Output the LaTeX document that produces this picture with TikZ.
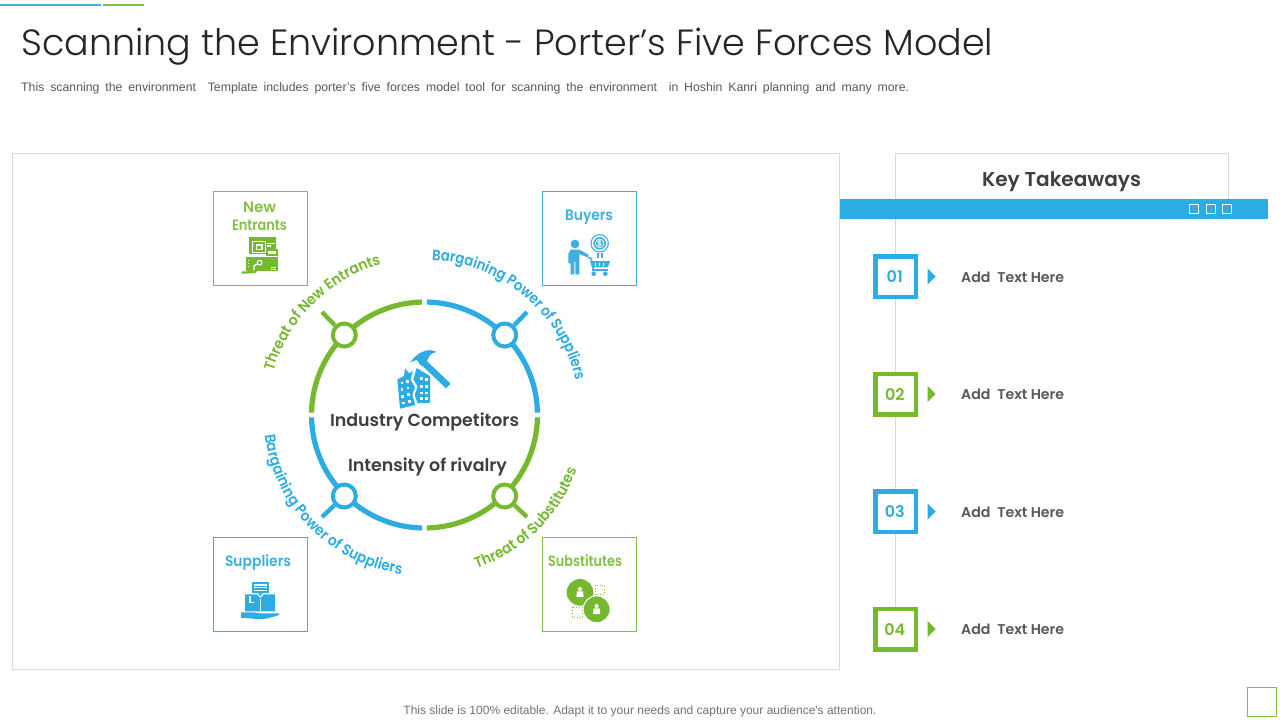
\documentclass[tikz,border=0pt]{standalone}
\usepackage{fontspec}
\usepackage{graphicx}
\usetikzlibrary{decorations.text}
\setmainfont{Poppins}[UprightFont=* Medium,BoldFont=* SemiBold]
\newfontfamily\titlefont{Poppins Light}
\newfontfamily\arialfont{Liberation Sans}
\newfontfamily\arcfam{Poppins SemiBold}[FakeStretch=0.92]
\newfontfamily\arcfamb{Poppins SemiBold}[FakeStretch=0.885]
\definecolor{cblue}{HTML}{2CACE3}
\definecolor{cgreen}{HTML}{76B82F}
\definecolor{lblue}{HTML}{3DB0E0}
\definecolor{lgreen}{HTML}{84BF45}
\definecolor{pgray}{HTML}{D9D9D9}
\definecolor{tdark}{HTML}{3F3F3F}
\definecolor{tgray}{HTML}{595959}
\newcommand{\fitw}[2]{\resizebox{#1pt}{!}{#2}}
\newcommand{\fith}[2]{\resizebox{#1pt}{\height}{#2}}
\tikzset{
  panel/.style={draw=pgray,line width=0.9pt},
  bluebox/.style={draw=lblue,line width=1pt,fill=white},
  greenbox/.style={draw=lgreen,line width=1pt,fill=white},
  arcline/.style={line width=5.2pt},
  tickline/.style={line width=4.4pt},
  ring/.style={circle,minimum size=23pt,inner sep=0pt,fill=white,line width=4pt},
  numbox/.style={minimum size=40.5pt,inner sep=0pt,fill=white,line width=4.5pt},
  numtext/.style={anchor=base,inner sep=0pt,font=\bfseries\fontsize{16}{18}\selectfont},
  addtext/.style={anchor=base west,inner sep=0pt,text=tgray},
  heading/.style={anchor=base,inner sep=0pt,text=tdark},
  boxlabel/.style={anchor=base,inner sep=0pt,font=\bfseries\fontsize{15}{18}\selectfont},
  zoomA/.style={x=0.33333pt,y=-0.33333pt}
}
\newcommand{\arcfont}{\arcfam\fontsize{15}{17}\selectfont}
\newcommand{\arcfontb}{\arcfamb\fontsize{15}{17}\selectfont}
\begin{document}
\begin{tikzpicture}[x=1pt,y=-1pt]
\useasboundingbox (0,0) rectangle (1280,720);
\fill[white] (0,0) rectangle (1280,720);
% top rules
\fill[lblue] (0,4) rectangle (101,6);
\fill[lgreen] (103,4) rectangle (143.5,6);
% title
\node[anchor=base west,inner sep=0pt,text=black!85] (title) at (21,56) {\fitw{972}{\titlefont\fontsize{38}{44}\selectfont Scanning the Environment - Porter’s Five Forces Model}};
\node[anchor=base west,inner sep=0pt,text=tgray] (sub) at (21,91) {\arialfont\fontsize{12.3}{14}\selectfont\makebox[888pt][s]{This scanning the environment\ \ Template includes porter’s five forces model tool for scanning the environment\ \ in Hoshin Kanri planning and many more.}};
% panels
\draw[panel] (12.5,153.5) rectangle (839.5,669.5);
\draw[panel] (895.5,199) -- (895.5,153.5) -- (1228.5,153.5) -- (1228.5,199);
\coordinate (tlTop) at (895.5,219);
\coordinate (tlBot) at (895.5,629);
\draw[panel] (tlTop) -- (tlBot);
\fill[cblue] (840,199) rectangle (1268,219);
\foreach \xx in {1194,1210.5,1227}{\draw[white,line width=0.9pt] (\xx-4.5,204.5) rectangle (\xx+4.5,213.5);}
\node[heading,font=\bfseries] (kt) at (1061.5,186.7) {\fitw{159}{\fontsize{20}{24}\selectfont Key Takeaways}};
% numbered list
\foreach \yy/\nn/\cc in {276.5/01/cblue,394/02/cgreen,511.5/03/cblue,629/04/cgreen}{
  \node[numbox,draw=\cc] (n\nn) at (895.5,\yy) {};
  \node[numtext,text=\cc] (d\nn) at (894.8,\yy+6) {\nn};
  \fill[\cc] (927.5,\yy-8) -- (935.5,\yy) -- (927.5,\yy+8) -- cycle;
  \node[addtext] (t\nn) at (961,\yy+5.6) {\fitw{103}{\bfseries\fontsize{14.5}{17}\selectfont Add\ \ Text Here}};
}
% force boxes
\node[greenbox,minimum size=94pt,inner sep=0pt] (bNE) at (260.5,238.5) {};
\node[bluebox,minimum size=94pt,inner sep=0pt] (bBU) at (589.5,238.5) {};
\node[bluebox,minimum size=94pt,inner sep=0pt] (bSU) at (260.5,584.5) {};
\node[greenbox,minimum size=94pt,inner sep=0pt] (bSB) at (589.5,584.5) {};
\node[boxlabel,text=lgreen] (lNEa) at (259.5,212) {\fith{33}{New}};
\node[boxlabel,text=lgreen] (lNEb) at (259.5,230) {\fith{55}{Entrants}};
\node[boxlabel,text=lblue] (lBU) at (589,220.7) {\fith{48}{Buyers}};
\node[boxlabel,text=lblue] (lSU) at (258,566.7) {\fith{66}{Suppliers}};
\node[boxlabel,text=lgreen] (lSB) at (585,566.7) {\fith{74}{Substitutes}};
% circle
\begin{scope}[shift={(424.5,415)},y=1pt]
  \draw[arcline,cgreen] (178.8:113) arc[start angle=178.8,end angle=91.2,radius=113];
  \draw[arcline,cblue] (88.8:113) arc[start angle=88.8,end angle=1.2,radius=113];
  \draw[arcline,cgreen] (-1.2:113) arc[start angle=-1.2,end angle=-88.8,radius=113];
  \draw[arcline,cblue] (-91.2:113) arc[start angle=-91.2,end angle=-178.8,radius=113];
  \path[decorate,decoration={text along path,text align=center,text color=cgreen,text={|\arcfont|Threat of New Entrants}}] (175:157) arc[start angle=175,end angle=95,radius=157];
  \path[decorate,decoration={text along path,text align=center,text color=cblue,text={|\arcfontb|Bargaining Power of Suppliers}}] (100:155) arc[start angle=100,end angle=0,radius=155];
  \path[decorate,decoration={text along path,text align=center,text color=cblue,text={|\arcfont|Bargaining Power of Suppliers}}] (174:161) arc[start angle=174,end angle=275,radius=161];
  \path[decorate,decoration={text along path,text align=center,text color=cgreen,text={|\arcfont|Threat of Substitutes}}] (275:162) arc[start angle=275,end angle=354,radius=162];
\end{scope}
\coordinate (tkTL) at (322,312);
\coordinate (tkTR) at (527,312);
\coordinate (tkBL) at (322,517);
\coordinate (tkBR) at (527,517);
\node[ring,draw=cgreen] (rTL) at (344.3,335) {};
\node[ring,draw=cblue] (rTR) at (504.7,335) {};
\node[ring,draw=cblue] (rBL) at (344.3,496) {};
\node[ring,draw=cgreen] (rBR) at (504.7,496) {};
\draw[tickline,cgreen] (rTL) -- (tkTL);
\draw[tickline,cblue] (rTR) -- (tkTR);
\draw[tickline,cblue] (rBL) -- (tkBL);
\draw[tickline,cgreen] (rBR) -- (tkBR);
\node[heading,font=\bfseries] (ic) at (424.5,426.7) {\fitw{189}{\fontsize{20}{24}\selectfont Industry Competitors}};
\node[heading,font=\bfseries] (ir) at (427.5,471.7) {\fitw{159}{\fontsize{20}{24}\selectfont Intensity of rivalry}};
% icon: buildings and hammer
\begin{scope}[shift={(380,340)},zoomA]
  \fill[cblue] (52,118) -- (72,108) -- (75,85) -- (88,100) -- (98,92) -- (92,120) -- (105,142) -- (97,165) -- (106,195) -- (60,206) -- cycle;
  \fill[cblue] (110,84) -- (150,108) -- (150,188) -- (113,190) -- (104,165) -- (113,140) -- (100,118) -- cycle;
  \foreach \a/\b in {62/125,78/120,62/145,80/140,64/165,82/160,66/185,84/180,120/112,136/115,120/135,136/135,120/155,136/155,120/172,136/172}{\fill[white] (\a,\b) rectangle ++(8,8);}
  \draw[cblue,line width=6.5pt] (125,62) -- (205,138);
  \fill[cblue] (90,68) .. controls (112,36) and (145,22) .. (170,36) .. controls (152,38) and (145,50) .. (140,66) -- (124,78) -- (110,60) .. controls (104,61) and (98,64) .. (90,68) -- cycle;
\end{scope}
% icon: new entrants
\begin{scope}[shift={(200,180)},zoomA]
  \fill[cgreen] (147,172) rectangle (228,222);
  \draw[white,line width=0.8pt] (158,183) rectangle (196,218);
  \fill[white] (167,193) rectangle (188,210);
  \fill[cgreen] (172,197) rectangle (184,206);
  \fill[white] (200,188) rectangle (224,192);
  \fill[white] (200,196) rectangle (214,200);
  \fill[cgreen] (198,208) rectangle (233,228);
  \fill[white] (204,213) rectangle (228,222);
  \fill[cgreen] (138,232) rectangle (233,272);
  \fill[white] (138,228) rectangle (233,231);
  \foreach \q in {240,249,258}{\fill[white] (143,\q) rectangle (147,\q+3);}
  \fill[white] (212,260) rectangle (228,263);
  \fill[white] (212,266) rectangle (228,268);
  \draw[white,line width=1.3pt] (162,272) -- (162,258) -- (178,248);
  \draw[white,fill=cgreen,line width=1pt] (179,248) circle (7);
  \draw[cgreen,line width=2.2pt] (125,278) -- (165,276) -- (175,260);
\end{scope}
% icon: buyers
\begin{scope}[shift={(420,180)},zoomA]
  \fill[lblue] (465,192) circle (13);
  \fill[lblue] (452,209) -- (478,209) -- (506,224) -- (503,232) -- (478,222) -- (478,283) -- (466,283) -- (466,245) -- (463,245) -- (463,283) -- (452,283) -- (452,250) -- (445,250) -- (445,222) -- cycle;
  \draw[lblue,line width=1.1pt,fill=white] (539,190) circle (26);
  \fill[lblue] (539,190) circle (19);
  \draw[white,line width=0.7pt] (539,190) circle (13);
  \node[inner sep=0pt,text=white,font=\bfseries\fontsize{8}{8}\selectfont] (dollar) at (539,190) {\$};
  \fill[lblue] (530,220) rectangle (536,233);
  \fill[lblue] (542,220) rectangle (548,233);
  \draw[lblue,line width=1.6pt] (504,232) -- (514,236) -- (520,270);
  \fill[lblue] (510,243) -- (571,243) -- (563,262) -- (516,262) -- cycle;
  \fill[lblue] (515,266) rectangle (563,274);
  \foreach \q in {524,536,548}{\fill[white] (\q,248) rectangle (\q+5,258);}
  \fill[lblue] (521,281) circle (7);
  \fill[lblue] (556,281) circle (7);
\end{scope}
% icon: suppliers
\begin{scope}[shift={(200,410)},zoomA]
  \fill[cblue] (155,517) rectangle (207,550);
  \fill[white] (161,523) rectangle (201,527);
  \fill[white] (161,532) rectangle (201,535);
  \fill[white] (161,540) rectangle (201,543);
  \fill[cblue] (172,550) -- (190,550) -- (181,558) -- cycle;
  \fill[cblue] (135,553) -- (170,553) -- (181,565) -- (192,553) -- (225,553) -- (225,604) -- (135,604) -- cycle;
  \fill[white] (147,557) rectangle (152,575);
  \fill[white] (147,575) rectangle (163,578);
  \fill[white] (180,568) rectangle (183,604);
  \fill[cblue] (123,607) -- (160,607) -- (180,610) -- (237,610) -- (237,615) .. controls (215,622) and (195,628) .. (175,628) .. controls (160,626) and (150,624) .. (123,624) -- cycle;
\end{scope}
% icon: substitutes
\begin{scope}[shift={(420,410)},zoomA]
  \draw[lgreen,line width=0.9pt,dotted] (525,525) rectangle (553,553);
  \draw[lgreen,line width=0.9pt,dotted] (458,592) rectangle (487,622);
  \fill[cgreen] (480,547) circle (40);
  \draw[white,fill=cgreen,line width=1pt] (530,598) circle (40.5);
  \foreach \a/\b in {480/547,530/598}{
    \fill[white] (\a,\b-10) circle (6);
    \fill[white] (\a-11,\b+14) -- (\a-9,\b-3) -- (\a+9,\b-3) -- (\a+11,\b+14) -- cycle;
  }
\end{scope}
% footer
\node[anchor=base,inner sep=0pt,text=tgray!85] (foot) at (640,714) {\arialfont\fontsize{12}{14}\selectfont This slide is 100\% editable. Adapt it to your needs and capture your audience's attention.};
\node[draw=lgreen,line width=1pt,minimum size=29pt,inner sep=0pt] (corner) at (1262,702) {};
\end{tikzpicture}
\end{document}
